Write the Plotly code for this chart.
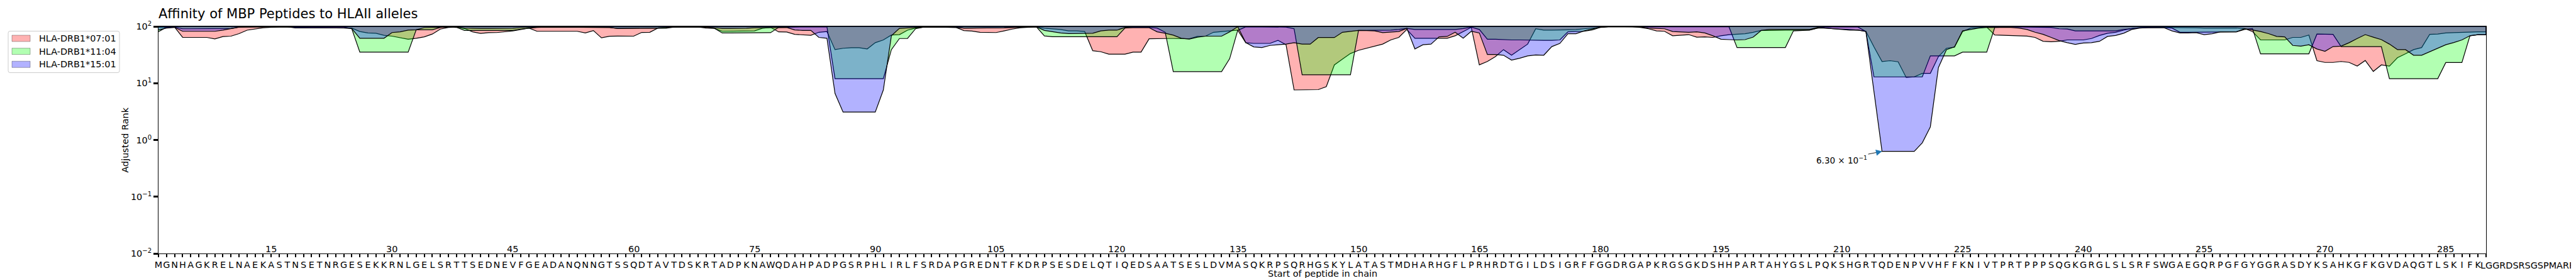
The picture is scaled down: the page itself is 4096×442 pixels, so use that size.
import numpy as np
import plotly.graph_objects as go

SEQUENCE = ("MGNHAGKRELNAEKASTNSETNRGESEKKRNLGELSRTTSEDNEVFGEADANQNNGTSS"
            "QDTAVTDSKRTADPKNAWQDAHPADPGSRPHLIRLFSRDAPGREDNTFKDRPSESDELQTIQ"
            "EDSAATSESLDVMASQKRPSQRHGSKYLATASTMDHARHGFLPRHRDTGILDSIGRFFGGDRG"
            "APKRGSGKDSHHPARTAHYGSLPQKSHGRTQDENPVVHFFKNIVTPRTPPPSQGKGRGLSLS"
            "RFSWGAEGQRPGFGYGGRASDYKSAHKGFKGVDAQGTLSKIFKLGGRDSRSGSPMARR")
N_PEPTIDES = 290
positions = list(range(1, N_PEPTIDES + 1))
major_ticks = list(range(15, N_PEPTIDES, 15))
MAX_RANK = 100

alleles = ["HLA-DRB1*07:01", "HLA-DRB1*11:04", "HLA-DRB1*15:01"]

rank_0701 = [
    96.1, 97.2, 97.2, 64.0, 64.0, 64.0, 64.0, 60.2, 66.2, 67.3,
    74.5, 85.9, 89.8, 94.5, 96.7, 97.8, 97.8, 96.1, 94.5, 94.5,
    94.5, 94.5, 94.5, 94.5, 93.4, 81.2, 76.7, 75.8, 69.7, 67.3,
    63.7, 59.5, 61.9, 65.5, 73.3, 89.8, 96.1, 97.2, 91.9, 80.2,
    75.4, 77.6, 78.0, 80.2, 83.5, 88.3, 93.4, 82.1, 82.1, 82.1,
    82.1, 82.1, 82.1, 76.7, 84.4, 63.0, 67.0, 67.7, 67.3, 67.3,
    78.4, 78.9, 93.4, 96.1, 97.8, 97.8, 97.8, 97.8, 93.4, 92.4,
    82.1, 82.1, 82.1, 82.5, 83.5, 92.9, 96.1, 80.2, 79.8, 72.5,
    70.5, 69.7, 78.9, 81.2, 39.0, 41.2, 42.1, 42.1, 40.1, 51.7,
    57.8, 70.5, 71.7, 85.9, 93.4, 97.2, 97.8, 97.8, 97.8, 96.1,
    84.4, 83.0, 78.9, 78.0, 78.0, 83.5, 89.8, 94.5, 97.2, 98.3,
    92.9, 90.9, 88.3, 83.5, 83.5, 81.2, 37.3, 35.8, 32.4, 32.4,
    32.4, 35.2, 35.2, 60.5, 61.2, 61.2, 61.2, 61.2, 60.5, 66.6,
    67.3, 78.9, 81.2, 83.5, 85.9, 51.7, 50.2, 50.2, 50.2, 56.9,
    47.5, 7.6, 7.6, 7.6, 7.7, 8.7, 21.0, 26.6, 33.3, 37.9,
    41.2, 44.9, 48.8, 57.8, 64.0, 88.3, 61.9, 61.9, 61.9, 61.9,
    61.9, 68.5, 81.2, 96.1, 21.0, 24.1, 29.4, 39.0, 31.1, 39.0,
    48.8, 90.9, 85.9, 85.9, 86.8, 87.3, 87.8, 90.9, 93.4, 97.2,
    98.9, 98.9, 98.9, 98.9, 96.1, 90.9, 83.5, 82.1, 68.5, 69.7,
    71.7, 64.7, 65.5, 64.0, 68.5, 71.7, 73.3, 74.5, 78.9, 84.9,
    84.9, 85.9, 85.9, 85.9, 86.8, 86.8, 93.4, 93.4, 90.9, 89.8,
    88.3, 85.9, 82.1, 43.6, 24.1, 24.9, 23.8, 12.6, 12.9, 14.9,
    14.9, 29.4, 41.2, 43.2, 81.2, 93.4, 96.1, 97.2, 70.5, 69.7,
    68.5, 68.5, 67.7, 64.0, 54.7, 53.8, 54.7, 57.8, 57.8, 57.8,
    61.2, 69.3, 75.8, 78.9, 85.9, 91.9, 95.0, 96.1, 96.1, 96.1,
    96.1, 96.1, 95.0, 94.5, 93.4, 93.4, 94.0, 94.0, 94.0, 91.9,
    81.2, 57.8, 57.8, 57.8, 57.8, 64.0, 64.0, 70.5, 24.9, 23.2,
    23.2, 24.1, 23.2, 20.0, 25.1, 16.1, 21.0, 20.0, 28.1, 32.9,
    39.0, 42.4, 72.5, 73.3, 76.7, 77.6, 78.9, 80.2, 80.2, 80.2,
]

rank_1104 = [
    80.7, 97.2, 97.2, 90.9, 90.9, 90.9, 90.9, 90.9, 91.9, 91.9,
    97.2, 97.8, 98.3, 98.3, 98.3, 98.3, 98.3, 97.8, 97.8, 97.8,
    97.8, 97.8, 97.8, 97.8, 90.9, 35.2, 35.2, 35.2, 35.2, 35.2,
    35.2, 35.2, 87.3, 87.3, 87.3, 96.1, 97.8, 96.1, 84.9, 84.9,
    84.9, 84.9, 84.9, 84.9, 84.9, 89.8, 93.4, 96.1, 97.2, 97.2,
    97.2, 97.2, 97.2, 97.2, 97.2, 97.2, 96.1, 92.4, 92.4, 92.9,
    92.9, 93.4, 91.9, 92.9, 97.2, 97.2, 97.2, 97.2, 97.2, 93.4,
    76.7, 76.7, 76.7, 76.7, 76.7, 76.7, 77.6, 96.1, 97.2, 97.8,
    97.8, 97.8, 97.8, 97.8, 12.0, 12.0, 12.0, 12.0, 12.0, 12.0,
    12.0, 39.0, 61.2, 61.2, 90.9, 97.2, 97.8, 97.8, 97.8, 97.2,
    93.4, 93.4, 93.4, 93.4, 93.4, 94.5, 96.1, 97.2, 98.3, 98.3,
    68.0, 65.9, 65.9, 65.9, 65.9, 65.9, 65.9, 65.9, 65.9, 65.9,
    93.4, 96.1, 96.1, 96.1, 93.4, 78.9, 16.0, 16.0, 16.0, 16.0,
    16.0, 16.0, 16.0, 27.0, 84.9, 98.3, 98.3, 98.3, 98.3, 98.3,
    97.2, 90.9, 14.1, 14.1, 14.1, 14.1, 14.1, 14.1, 14.1, 84.9,
    84.9, 84.9, 84.9, 85.9, 88.3, 92.4, 88.3, 88.3, 88.3, 88.3,
    88.3, 88.3, 91.9, 97.2, 88.3, 59.5, 59.5, 58.5, 57.8, 57.8,
    57.2, 56.9, 56.9, 56.9, 57.8, 80.2, 81.2, 82.1, 86.8, 96.1,
    98.3, 98.3, 98.3, 98.3, 98.3, 98.3, 98.3, 98.3, 98.3, 98.3,
    98.3, 98.3, 98.3, 98.3, 98.3, 98.3, 42.4, 42.4, 42.4, 42.4,
    42.4, 42.4, 42.4, 83.5, 84.9, 85.9, 93.4, 97.8, 97.8, 97.8,
    97.8, 97.8, 81.2, 12.9, 12.9, 12.9, 12.9, 12.9, 12.9, 12.9,
    30.3, 30.3, 30.3, 30.3, 35.2, 35.2, 35.2, 35.2, 96.1, 97.8,
    97.8, 97.8, 97.8, 97.8, 97.2, 96.1, 90.9, 89.8, 83.5, 83.5,
    83.5, 83.5, 83.5, 83.5, 88.3, 91.9, 95.0, 96.1, 96.1, 95.0,
    93.4, 78.9, 78.9, 78.9, 78.9, 80.2, 80.2, 80.2, 80.2, 88.3,
    91.9, 32.9, 32.9, 32.9, 32.9, 32.9, 32.9, 32.9, 73.3, 73.3,
    72.5, 44.1, 44.1, 44.1, 44.1, 44.1, 44.1, 12.0, 12.0, 12.0,
    12.0, 12.0, 12.0, 12.0, 23.1, 23.1, 23.1, 68.5, 71.7, 71.7,
]

rank_1501 = [
    86.8, 93.4, 96.1, 82.1, 82.1, 82.1, 82.1, 82.1, 85.9, 90.9,
    97.2, 97.8, 98.3, 98.3, 98.3, 98.3, 98.3, 94.0, 94.0, 94.0,
    94.0, 94.0, 94.0, 94.0, 91.9, 61.9, 61.9, 61.9, 61.9, 78.0,
    80.2, 85.9, 87.3, 95.0, 96.1, 97.2, 97.8, 97.8, 93.4, 92.4,
    92.4, 92.4, 92.4, 92.4, 92.9, 95.0, 96.1, 97.2, 97.2, 97.2,
    97.2, 97.2, 97.2, 97.2, 97.2, 97.2, 96.1, 92.4, 92.4, 92.9,
    92.9, 93.4, 94.0, 96.1, 97.8, 97.8, 97.8, 97.8, 97.2, 95.0,
    92.4, 92.4, 92.4, 92.9, 94.5, 95.0, 96.1, 97.2, 96.1, 86.8,
    84.9, 84.9, 64.0, 61.9, 6.6, 3.1, 3.1, 3.1, 3.1, 3.1,
    7.6, 68.5, 92.4, 95.0, 96.1, 97.8, 97.8, 97.8, 97.8, 96.1,
    93.4, 93.4, 93.4, 93.4, 94.0, 95.0, 96.1, 97.2, 98.3, 98.3,
    84.9, 81.2, 76.7, 75.0, 75.0, 74.5, 75.8, 83.5, 85.9, 85.9,
    96.1, 95.0, 95.0, 95.0, 80.2, 75.8, 70.1, 61.9, 59.8, 64.7,
    67.3, 67.7, 67.3, 80.2, 98.9, 51.7, 43.6, 42.4, 46.2, 47.5,
    48.8, 51.7, 48.8, 48.8, 63.7, 63.7, 63.7, 78.9, 82.1, 84.9,
    84.4, 83.5, 77.6, 78.9, 81.2, 92.4, 40.1, 47.5, 48.8, 65.5,
    66.6, 78.9, 61.9, 82.1, 76.7, 32.0, 32.0, 31.1, 25.5, 27.5,
    30.3, 31.5, 31.1, 44.1, 50.2, 74.5, 74.5, 83.5, 89.8, 97.2,
    98.9, 98.9, 98.9, 98.9, 97.8, 93.4, 91.9, 90.9, 81.2, 79.8,
    78.9, 80.2, 76.7, 68.5, 59.5, 58.5, 57.8, 58.5, 64.7, 84.9,
    88.3, 88.3, 88.3, 88.3, 88.3, 88.3, 96.1, 93.4, 90.9, 89.8,
    85.9, 86.8, 81.2, 7.1, 0.63, 0.63, 0.63, 0.63, 0.63, 0.89,
    1.7, 18.8, 39.0, 43.6, 83.5, 88.3, 93.4, 96.1, 96.1, 97.2,
    96.1, 93.4, 88.3, 78.9, 72.5, 64.0, 56.2, 51.7, 48.3, 50.9,
    51.7, 54.7, 66.6, 69.3, 75.8, 88.3, 93.4, 95.0, 95.0, 95.0,
    83.5, 76.7, 76.7, 77.6, 71.7, 74.5, 80.2, 80.2, 80.2, 90.9,
    86.8, 81.2, 74.5, 66.6, 65.5, 46.2, 44.9, 47.5, 40.1, 36.4,
    44.1, 44.9, 51.7, 61.2, 71.7, 64.7, 58.5, 48.8, 39.0, 39.0,
    31.1, 31.1, 35.8, 41.2, 47.5, 52.0, 57.8, 68.5, 71.7, 71.7,
]

fill_colors = ["rgba(255,0,0,0.3)", "rgba(0,255,0,0.3)", "rgba(0,0,255,0.3)"]

FONT = "DejaVu Sans"
FS = 14.4
W, H = 4096, 442
ML, MR, MT, MB = 244, 151, 34, 47
PW, PH = W - ML - MR, H - MT - MB


def px(xp):
    return (xp - ML) / PW


def py(yp):
    return (H - MB - yp) / PH


fig = go.Figure()
for name, vals, col in zip(alleles, [rank_0701, rank_1104, rank_1501], fill_colors):
    xs = positions + positions[::-1]
    ys = list(vals) + [MAX_RANK] * len(vals)
    fig.add_trace(go.Scatter(
        x=xs, y=ys, mode="lines", fill="toself", fillcolor=col,
        line=dict(color="black", width=1.2), name=name, hoverinfo="skip",
        showlegend=False,
    ))

annotations = []
shapes = []

# position numbers above the axis
for p in major_ticks:
    annotations.append(dict(
        x=p, y=0, xref="x", yref="paper", text=str(p), showarrow=False,
        yanchor="bottom", xanchor="center", yshift=-3,
        font=dict(family=FONT, size=FS, color="black")))

# last residues of the chain, written from the last peptide start onwards
annotations.append(dict(
    x=N_PEPTIDES - 0.8, y=0, xref="x", yref="paper",
    text=SEQUENCE[N_PEPTIDES - 1:],
    showarrow=False, xanchor="left", yanchor="top", xshift=0, yshift=-10,
    borderpad=0, font=dict(family=FONT, size=FS, color="black")))

# minimum annotation
imin = int(np.argmin(rank_1501))
xmin = positions[imin]
ymin = rank_1501[imin]
expo = int(np.floor(np.log10(ymin)))
mant = ymin / 10 ** expo
exp_txt = f"−{abs(expo)}" if expo < 0 else f"{expo}"
label = f"{mant:.2f} × 10<sup>{exp_txt}</sup>"
annotations.append(dict(
    x=xmin, y=np.log10(ymin), xref="x", yref="y", text=label,
    showarrow=True, arrowhead=0, arrowwidth=1, arrowcolor="#222222",
    ax=-64, ay=13, font=dict(family=FONT, size=13.5, color="black")))
annotations.append(dict(
    x=xmin, y=np.log10(ymin), xref="x", yref="y", text="",
    showarrow=True, arrowhead=2, arrowsize=1.2, arrowwidth=1.6,
    arrowcolor="#1f77b4", ax=-9, ay=2))

# axis titles
annotations.append(dict(
    x=px(190), y=0.5, xref="paper", yref="paper", text="Adjusted Rank",
    textangle=-90, showarrow=False, xanchor="center", yanchor="middle",
    font=dict(family=FONT, size=FS, color="black")))
annotations.append(dict(
    x=0.5, y=py(427), xref="paper", yref="paper", text="Start of peptide in chain",
    showarrow=False, xanchor="center", yanchor="middle",
    font=dict(family=FONT, size=FS, color="black")))

# manual legend (matplotlib style)
LX0, LX1, LY0, LY1, R = 5, 182, 41.5, 107.5, 3


def rounded_rect(x0, y0, x1, y1, r):
    pts = [
        ("M", x0 + r, y0), ("L", x1 - r, y0), ("Q", x1, y0, x1, y0 + r),
        ("L", x1, y1 - r), ("Q", x1, y1, x1 - r, y1), ("L", x0 + r, y1),
        ("Q", x0, y1, x0, y1 - r), ("L", x0, y0 + r), ("Q", x0, y0, x0 + r, y0),
    ]
    out = []
    for seg in pts:
        cmd = seg[0]
        coords = seg[1:]
        conv = []
        for i in range(0, len(coords), 2):
            conv.append(f"{px(coords[i]):.6f},{py(coords[i + 1]):.6f}")
        out.append(cmd + " ".join(conv))
    return " ".join(out) + " Z"


shapes.append(dict(type="path", xref="paper", yref="paper",
                   path=rounded_rect(LX0, LY0, LX1, LY1, R),
                   line=dict(color="#cccccc", width=1), fillcolor="white",
                   layer="above"))
row_centers = [53.0, 73.6, 94.3]
for name, col, yc in zip(alleles, fill_colors, row_centers):
    shapes.append(dict(type="rect", xref="paper", yref="paper",
                       x0=px(11), x1=px(40), y0=py(yc - 5), y1=py(yc + 5),
                       fillcolor=col, line=dict(color="rgba(0,0,0,0.3)", width=1),
                       layer="above"))
    annotations.append(dict(x=px(52), y=py(yc), xref="paper", yref="paper",
                            text=name, showarrow=False, xanchor="left",
                            yanchor="middle",
                            font=dict(family=FONT, size=FS, color="black")))

fig.update_layout(
    width=W, height=H,
    margin=dict(l=ML, r=MR, t=MT, b=MB),
    paper_bgcolor="white", plot_bgcolor="white",
    font=dict(family=FONT, size=FS, color="black"),
    showlegend=False,
    title=dict(text="Affinity of MBP Peptides to HLAII alleles",
               x=0, xref="paper", xanchor="left",
               y=1 - 13.2 / H, yref="container", yanchor="middle",
               font=dict(family=FONT, size=21, color="black")),
    annotations=annotations,
    shapes=shapes,
    xaxis=dict(range=[1, N_PEPTIDES], tickmode="array", tickvals=positions,
               ticktext=list(SEQUENCE[:N_PEPTIDES - 1]) + [""], tickangle=0,
               ticks="outside", ticklen=5, tickwidth=2, tickcolor="black",
               showline=True, linecolor="black", linewidth=1, mirror=True,
               showgrid=False, zeroline=False,
               tickfont=dict(family=FONT, size=FS, color="black")),
    yaxis=dict(type="log", range=[-2, 2], tickmode="array",
               tickvals=[0.01, 0.1, 1, 10, 100],
               ticktext=["10<sup>−2</sup>", "10<sup>−1</sup>", "10<sup>0</sup>",
                         "10<sup>1</sup>", "10<sup>2</sup>"],
               ticks="outside", ticklen=7, tickwidth=2.5, tickcolor="black",
               showline=True, linecolor="black", linewidth=1, mirror=True,
               showgrid=False, zeroline=False,
               tickfont=dict(family=FONT, size=FS, color="black")),
)

fig.write_html("out.html", config={"displayModeBar": False})
